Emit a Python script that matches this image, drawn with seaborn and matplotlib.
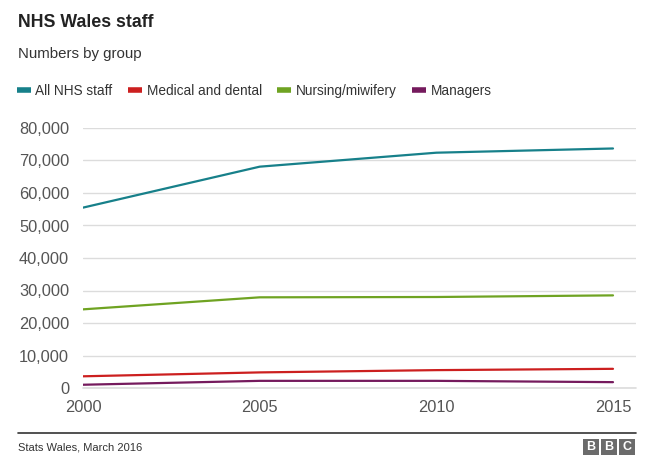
import matplotlib
matplotlib.use("Agg")
import matplotlib.pyplot as plt
import matplotlib.patches as mpatches
import seaborn as sns
import pandas as pd

years = [2000, 2005, 2010, 2015]
all_staff = [55500, 68100, 72400, 73700]
medical = [3600, 4800, 5500, 5900]
nursing = [24200, 27900, 28000, 28500]
managers = [1000, 2200, 2200, 1800]
series_names = ["All NHS staff", "Medical and dental", "Nursing/miwifery", "Managers"]
colors = ["#17808a", "#cc1f1f", "#6fa322", "#751a5d"]
y_ticks = [0, 10000, 20000, 30000, 40000, 50000, 60000, 70000, 80000]
x_ticks = [2000, 2005, 2010, 2015]

rows = []
for name, vals in zip(series_names, [all_staff, medical, nursing, managers]):
    for y, v in zip(years, vals):
        rows.append({"Year": y, "Staff": v, "Group": name})
df = pd.DataFrame(rows)

sns.set_style("white")
plt.rcParams["font.family"] = ["Liberation Sans", "DejaVu Sans"]

W, H = 660, 471
fig = plt.figure(figsize=(W / 100, H / 100), dpi=100)
ax = fig.add_axes([83 / W, 1 - 388 / H, (636 - 83) / W, (388 - 128) / H])

sns.lineplot(data=df, x="Year", y="Staff", hue="Group", hue_order=series_names,
             palette=colors, linewidth=1.6, ax=ax, legend=True)

ax.set_xlim(2000, 2015 + (636 - 613) / 35.33)
ax.set_ylim(0, 80000)
ax.set_yticks(y_ticks)
ax.set_yticklabels([f"{v:,}" for v in y_ticks])
ax.set_xticks(x_ticks)
ax.set_xticklabels([str(x) for x in x_ticks])
ax.set_xlabel("")
ax.set_ylabel("")
ax.grid(axis="y", color="#dcdcdc", linewidth=1)
ax.axhline(0, color="#dcdcdc", linewidth=1.2, zorder=0.5, clip_on=False)
ax.set_axisbelow(True)
for s in ax.spines.values():
    s.set_visible(False)
ax.tick_params(axis="y", length=0, pad=10, labelsize=11.8, labelcolor="#555555")
ax.tick_params(axis="x", length=5, width=0.8, color="#cccccc", pad=4, labelsize=11.8, labelcolor="#555555")

sns.move_legend(ax, "center left", bbox_to_anchor=(17 / W, 1 - 91 / H),
                bbox_transform=fig.transFigure, ncol=4, frameon=False, title=None,
                fontsize=9.8, handlelength=1.0, handletextpad=0.35, columnspacing=1.15,
                borderpad=0, borderaxespad=0, labelcolor="#333333")
leg = ax.get_legend()
for h in leg.legend_handles:
    h.set_linewidth(4)
    h.set_solid_capstyle("butt")

fig.text(18 / W, 1 - 22.5 / H, "NHS Wales staff", fontsize=12.8, fontweight="bold",
         color="#222222", va="center", ha="left")
fig.text(18 / W, 1 - 54 / H, "Numbers by group", fontsize=10.8, color="#333333",
         va="center", ha="left")

fig.add_artist(plt.Line2D([18 / W, 636 / W], [1 - 433 / H, 1 - 433 / H], color="#333333",
                          linewidth=1.2, transform=fig.transFigure))
fig.text(18 / W, 1 - 447 / H, "Stats Wales, March 2016", fontsize=8, color="#333333",
         va="center", ha="left")
for i, ch in enumerate("BBC"):
    x0 = 583 + i * 18
    fig.add_artist(mpatches.Rectangle((x0 / W, 1 - 455 / H), 16 / W, 16 / H,
                                      transform=fig.transFigure, facecolor="#6b6b6b",
                                      edgecolor="none"))
    fig.text((x0 + 8) / W, 1 - 447 / H, ch, fontsize=9, fontweight="bold", color="white",
             ha="center", va="center")

fig.savefig("out.png", dpi=100, facecolor="white")
